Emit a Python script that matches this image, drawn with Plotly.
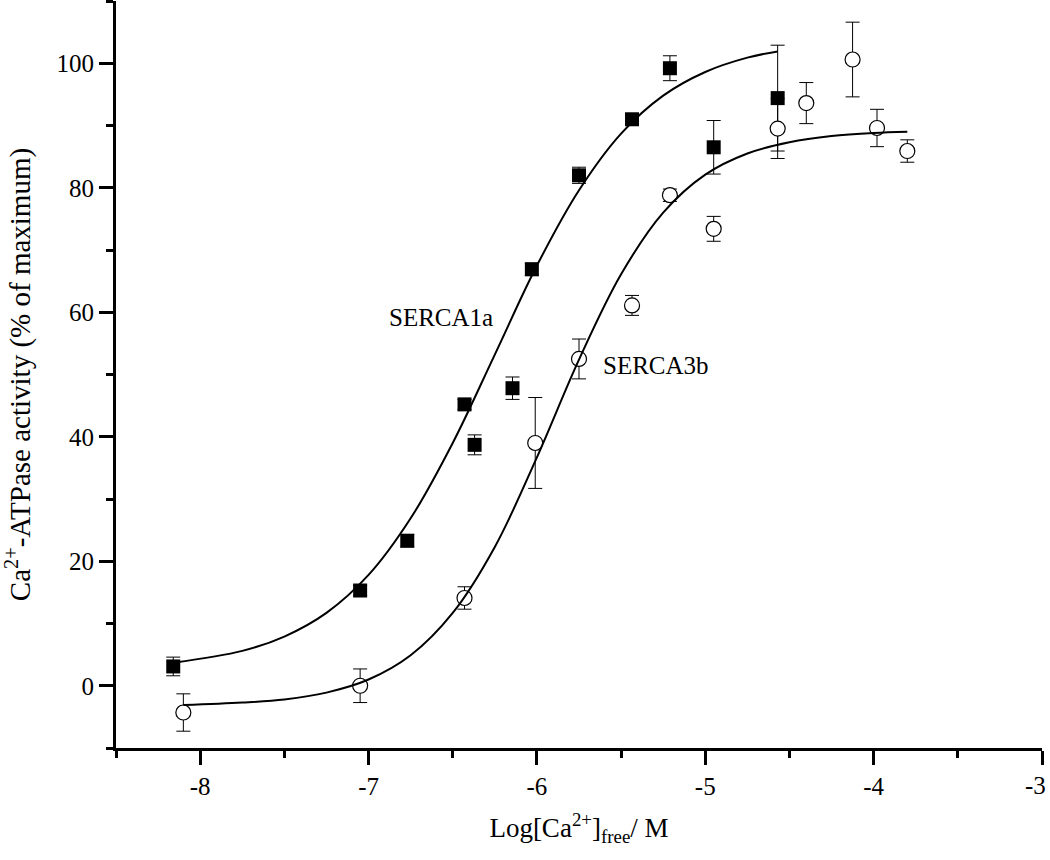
import plotly.graph_objects as go

# SERCA1a data (filled squares)
s1_x = [-8.16, -7.05, -6.77, -6.43, -6.37, -6.145, -6.03, -5.75, -5.435, -5.21, -4.95, -4.57]
s1_y = [3.1, 15.3, 23.3, 45.2, 38.7, 47.8, 66.9, 82.0, 91.0, 99.2, 86.5, 94.4]
s1_err = [1.5, 0.8, 1.0, 0.8, 1.6, 1.8, 1.0, 1.3, 0.8, 2.0, 4.3, 8.5]

# SERCA3b data (open circles)
s3_x = [-8.10, -7.05, -6.43, -6.01, -5.75, -5.435, -5.21, -4.95, -4.57, -4.40, -4.125, -3.98, -3.80]
s3_y = [-4.3, 0.0, 14.1, 39.0, 52.5, 61.1, 78.8, 73.4, 89.5, 93.6, 100.6, 89.6, 85.9]
s3_err = [3.0, 2.7, 1.8, 7.3, 3.2, 1.6, 1.0, 2.0, 4.8, 3.3, 6.0, 3.0, 1.8]

# Fitted curves
c1_x = [-8.16, -7.75, -7.5, -7.25, -7.0, -6.75, -6.5, -6.25, -6.0, -5.75, -5.5, -5.25, -5.0, -4.75, -4.57]
c1_y = [3.7, 5.6, 7.9, 11.7, 17.8, 26.9, 39.0, 53.2, 67.5, 79.6, 88.7, 94.8, 98.6, 100.9, 101.9]
c3_x = [-8.10, -7.75, -7.5, -7.25, -7.0, -6.75, -6.5, -6.25, -6.0, -5.75, -5.5, -5.25, -5.0, -4.75, -4.5, -4.25, -4.0, -3.80]
c3_y = [-3.1, -2.7, -2.2, -1.1, 1.0, 4.9, 11.7, 22.3, 36.7, 52.4, 66.1, 76.0, 82.1, 85.5, 87.3, 88.3, 88.8, 89.0]

x_ticks = [-8, -7, -6, -5, -4]
x_last_tick = -3
y_ticks = [0, 20, 40, 60, 80, 100]

FONT = "Liberation Serif"

fig = go.Figure()

fig.add_trace(go.Scatter(
    x=s1_x, y=s1_y, mode="markers",
    error_y=dict(type="data", array=s1_err, color="black", thickness=1, width=7),
    marker=dict(symbol="square", size=14, color="black", line=dict(color="black", width=0)),
    showlegend=False))

fig.add_trace(go.Scatter(
    x=s3_x, y=s3_y, mode="markers",
    error_y=dict(type="data", array=s3_err, color="black", thickness=1, width=7),
    marker=dict(symbol="circle", size=15, color="white", line=dict(color="black", width=1.2)),
    showlegend=False))

fig.add_trace(go.Scatter(x=c1_x, y=c1_y, mode="lines", line=dict(color="black", width=2, shape="spline"),
                         showlegend=False))
fig.add_trace(go.Scatter(x=c3_x, y=c3_y, mode="lines", line=dict(color="black", width=2, shape="spline"),
                         showlegend=False))

fig.add_annotation(x=-6.57, y=59.2, text="SERCA1a", showarrow=False,
                   font=dict(family=FONT, size=25, color="black"))
fig.add_annotation(x=-5.29, y=51.4, text="SERCA3b", showarrow=False,
                   font=dict(family=FONT, size=25, color="black"))
# last x tick label, kept inside the page like the reference
fig.add_annotation(x=x_last_tick, y=0, yref="paper", text=str(x_last_tick), showarrow=False,
                   xanchor="right", yanchor="top", xshift=6, yshift=-22,
                   font=dict(family=FONT, size=25, color="black"))

fig.update_layout(
    width=1050, height=860,
    paper_bgcolor="white", plot_bgcolor="white",
    margin=dict(l=116, r=8, t=1, b=112),
    font=dict(family=FONT, size=25, color="black"),
)

fig.update_xaxes(
    range=[-8.5, -3.0], tickmode="array", tickvals=x_ticks + [x_last_tick],
    ticktext=[str(v) for v in x_ticks] + [""],
    showgrid=False, zeroline=False, showline=True, linecolor="black", linewidth=3,
    ticks="outside", ticklen=14, tickwidth=3, tickcolor="black",
    minor=dict(ticks="outside", ticklen=7, tickwidth=3, tickcolor="black", dtick=0.5, showgrid=False),
    tickfont=dict(family=FONT, size=25), automargin=False,
    title=dict(text="Log[Ca<sup>2+</sup>]<sub>free</sub>/ M", font=dict(family=FONT, size=27), standoff=20),
)
fig.update_yaxes(
    range=[-10, 110], tickmode="array", tickvals=y_ticks,
    ticktext=[str(v) for v in y_ticks],
    showgrid=False, zeroline=False, showline=True, linecolor="black", linewidth=3,
    ticks="outside", ticklen=14, tickwidth=3, tickcolor="black",
    minor=dict(ticks="outside", ticklen=7, tickwidth=3, tickcolor="black", dtick=10, showgrid=False),
    tickfont=dict(family=FONT, size=25), automargin=False,
    title=dict(text="Ca<sup>2+</sup>-ATPase activity (% of maximum)", font=dict(family=FONT, size=29), standoff=18),
)

fig.write_html("out.html", config={"displayModeBar": False},
               post_script="document.body.style.margin='0px';")
